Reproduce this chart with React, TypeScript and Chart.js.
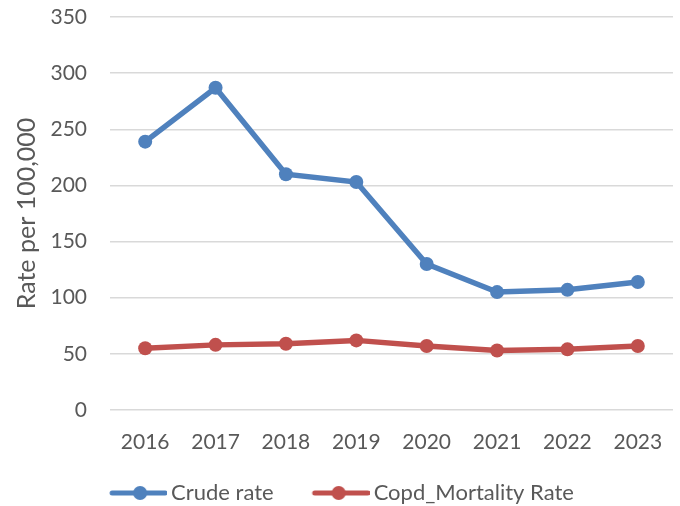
import React, { useEffect, useRef } from "react";
import { Chart, registerables } from "chart.js";

Chart.register(...registerables);

const years = ["2016", "2017", "2018", "2019", "2020", "2021", "2022", "2023"];
const crudeRate = [239, 287, 210, 203, 130, 105, 107, 114];
const copdRate = [55, 58, 59, 62, 57, 53, 54, 57];
const seriesNames = ["Crude rate", "Copd_Mortality Rate"];
const yTitle = "Rate per 100,000";

const BLUE = "#4f81bd";
const RED = "#c0504d";
const TEXT = "#595959";
const FONT = "Lato, 'Open Sans', sans-serif";

// legend icon: a short line with a round marker, drawn on a small canvas
function legendIcon(color: string, markerOffset: number): HTMLCanvasElement {
  const c = document.createElement("canvas");
  c.width = 73;
  c.height = 18;
  const ctx = c.getContext("2d")!;
  ctx.strokeStyle = color;
  ctx.lineWidth = 5;
  ctx.lineCap = "round";
  ctx.beginPath();
  ctx.moveTo(18, 9);
  ctx.lineTo(71, 9);
  ctx.stroke();
  ctx.fillStyle = color;
  ctx.beginPath();
  ctx.arc(16 + markerOffset, 9, 7, 0, Math.PI * 2);
  ctx.fill();
  return c;
}

export default function App() {
  const ref = useRef<HTMLCanvasElement>(null);
  useEffect(() => {
    document.body.style.margin = "0";
    const icons = [legendIcon(BLUE, 30), legendIcon(RED, 26)];
    const chart = new Chart(ref.current!, {
      type: "line",
      data: {
        labels: years,
        datasets: [
          {
            label: seriesNames[0],
            data: crudeRate,
            borderColor: BLUE,
            backgroundColor: BLUE,
            borderWidth: 5.5,
            pointRadius: 7,
            pointHoverRadius: 7,
            pointBorderWidth: 0,
            tension: 0,
          },
          {
            label: seriesNames[1],
            data: copdRate,
            borderColor: RED,
            backgroundColor: RED,
            borderWidth: 5.5,
            pointRadius: 7,
            pointHoverRadius: 7,
            pointBorderWidth: 0,
            tension: 0,
          },
        ],
      },
      options: {
        responsive: false,
        animation: false,
        layout: { padding: { left: 0, right: 5, top: 17, bottom: -8 } },
        plugins: {
          tooltip: { enabled: false },
          legend: {
            position: "bottom",
            labels: {
              usePointStyle: true,
              pointStyleWidth: 59,
              padding: 30,
              color: TEXT,
              font: { family: FONT, size: 22 },
              generateLabels: (ch: any) =>
                ch.data.datasets.map((ds: any, i: number) => ({
                  text: ds.label,
                  fillStyle: ds.borderColor,
                  strokeStyle: ds.borderColor,
                  lineWidth: 0,
                  pointStyle: icons[i],
                  fontColor: TEXT,
                  hidden: false,
                  datasetIndex: i,
                })),
            },
          },
        },
        scales: {
          x: {
            offset: true,
            grid: { display: false, drawTicks: false },
            border: { display: false },
            ticks: { color: TEXT, font: { family: FONT, size: 21 }, padding: 20 },
            afterFit: (s: any) => {
              s.height = 42;
              s.paddingLeft = 0;
              s.paddingRight = 0;
            },
          },
          y: {
            min: 0,
            max: 350,
            ticks: { stepSize: 50, color: TEXT, font: { family: FONT, size: 21 }, padding: 23 },
            grid: { color: "#d9d9d9", lineWidth: 1.5, drawTicks: false },
            border: { display: false },
            title: {
              display: true,
              text: yTitle,
              color: TEXT,
              font: { family: FONT, size: 25 },
              padding: { top: 12, bottom: 0 },
            },
            afterFit: (s: any) => {
              s.width = 110;
              s.paddingTop = 0;
              s.paddingBottom = 0;
            },
          },
        },
      },
    });
    return () => chart.destroy();
  }, []);
  return (
    <div style={{ position: "absolute", left: 0, top: 0, width: 680, height: 506, background: "#fff" }}>
      <canvas ref={ref} width={680} height={506} />
    </div>
  );
}
